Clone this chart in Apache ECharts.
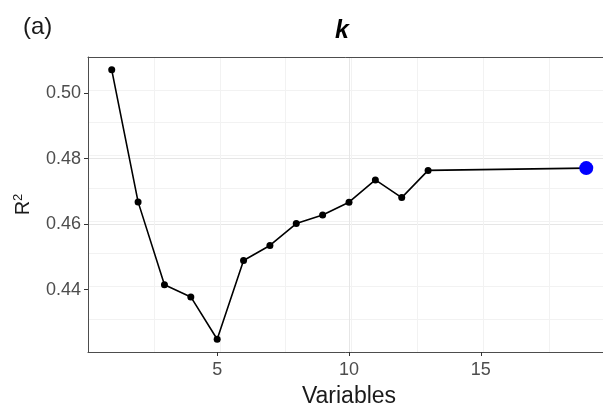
<!DOCTYPE html>
<html>
<head>
<meta charset="utf-8">
<script src="https://cdn.jsdelivr.net/npm/echarts@6/dist/echarts.min.js"></script>
<style>
html,body{margin:0;padding:0;background:#fff;overflow:hidden;}
#c{width:603px;height:412px;}
</style>
</head>
<body>
<div id="c"></div>
<script>
// Data
var variables = [1, 2, 3, 4, 5, 6, 7, 8, 9, 10, 11, 12, 13, 19];
var r2 = [0.5071, 0.4668, 0.4415, 0.4378, 0.4249, 0.4489, 0.4535, 0.4602, 0.4628, 0.4667, 0.4735, 0.4681, 0.4764, 0.4771];
var bestIndex = 13; // highlighted (blue) model
var xTicks = [5, 10, 15];
var yTicks = [0.44, 0.46, 0.48, 0.50];

var FONT = '"Liberation Sans", Arial, sans-serif';
var lineData = variables.map(function (v, i) { return [v, r2[i]]; });
var bestData = [[variables[bestIndex], r2[bestIndex]]];
var BORDER = {show: true, lineStyle: {color: '#4d4d4d', width: 1}};

var chart = echarts.init(document.getElementById('c'), null, {renderer: 'canvas'});
var option = {
  animation: false,
  backgroundColor: '#ffffff',
  title: [
    {text: '(a)', left: 18, top: 10, textStyle: {fontFamily: FONT, fontSize: 24, fontWeight: 'normal', color: '#1a1a1a'}},
    {text: 'k', left: 330, top: 14, textStyle: {fontFamily: FONT, fontSize: 25, fontWeight: 'bold', fontStyle: 'italic', color: '#000'}}
  ],
  grid: {left: 88, top: 57, right: -7, height: 295, show: false, containLabel: false, outerBoundsMode: 'none'},
  xAxis: [
    {type: 'value', min: 0.1, max: 19.9, interval: 2.5,
     axisLine: {show: false}, axisTick: {show: false}, axisLabel: {show: false},
     splitLine: {show: true, showMinLine: false, showMaxLine: false, lineStyle: {color: '#f2f2f2', width: 1}}},
    {type: 'value', min: 0.1, max: 19.9, interval: 5, position: 'bottom',
     axisLine: BORDER,
     axisTick: {show: true, length: 4, customValues: xTicks, lineStyle: {color: '#333', width: 1}},
     axisLabel: {show: true, customValues: xTicks, margin: 9, fontFamily: FONT, fontSize: 18, color: '#4d4d4d'},
     splitLine: {show: true, showMinLine: false, showMaxLine: false, lineStyle: {color: '#e6e6e6', width: 1}},
     name: 'Variables', nameLocation: 'middle', nameGap: 33,
     nameTextStyle: {fontFamily: FONT, fontSize: 23, color: '#1a1a1a'}},
    {type: 'value', min: 0.1, max: 19.9, position: 'top',
     axisLine: BORDER, axisTick: {show: false}, axisLabel: {show: false}, splitLine: {show: false}}
  ],
  yAxis: [
    {type: 'value', min: 0.421, max: 0.511, interval: 0.01, position: 'left',
     axisLine: {show: false}, axisTick: {show: false}, axisLabel: {show: false},
     splitLine: {show: true, showMinLine: false, showMaxLine: false, lineStyle: {color: '#f2f2f2', width: 1}}},
    {type: 'value', min: 0.421, max: 0.511, interval: 0.02, position: 'left',
     axisLine: BORDER,
     axisTick: {show: true, length: 4, customValues: yTicks, lineStyle: {color: '#333', width: 1}},
     axisLabel: {show: true, customValues: yTicks, margin: 7, fontFamily: FONT, fontSize: 18, color: '#4d4d4d',
       formatter: function (v) { return v.toFixed(2); }},
     splitLine: {show: true, showMinLine: false, showMaxLine: false, lineStyle: {color: '#e6e6e6', width: 1}},
     name: '{r|R}{s|2}', nameLocation: 'middle', nameGap: 54, nameRotate: 90,
     nameTextStyle: {fontFamily: FONT, fontSize: 20, color: '#1a1a1a',
       rich: {r: {fontFamily: FONT, fontSize: 20, color: '#1a1a1a', lineHeight: 22},
              s: {fontFamily: FONT, fontSize: 13, color: '#1a1a1a', verticalAlign: 'top', lineHeight: 22, padding: [0, 0, 8, 0]}}}}
  ],
  series: [
    {type: 'line', xAxisIndex: 0, yAxisIndex: 0, data: lineData,
     symbol: 'circle', symbolSize: 7, showAllSymbol: true,
     lineStyle: {color: '#000', width: 1.6}, itemStyle: {color: '#000'}, z: 3},
    {type: 'scatter', xAxisIndex: 0, yAxisIndex: 0, data: bestData,
     symbol: 'circle', symbolSize: 14, itemStyle: {color: '#0000ff', opacity: 1}, z: 4}
  ]
};
chart.setOption(option);
</script>
</body>
</html>
